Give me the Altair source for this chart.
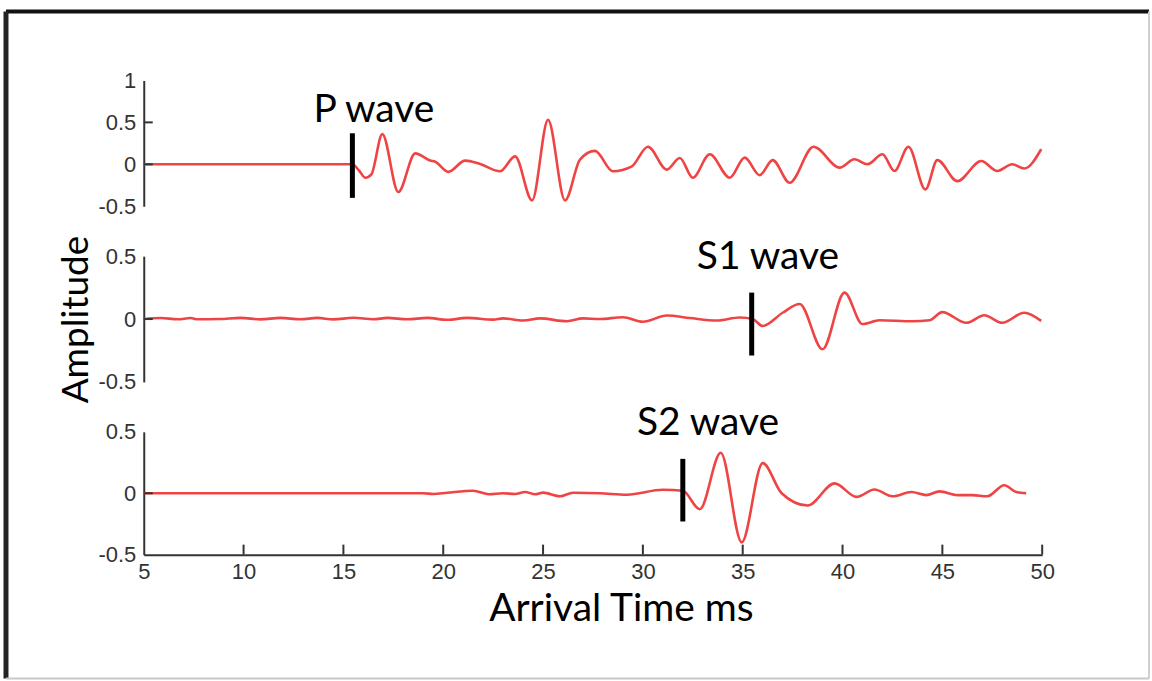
import altair as alt
import pandas as pd

# ---------------- data ----------------
p_time = [5.0, 13.0, 15.45, 15.8, 16.1, 16.4, 16.95, 17.75, 18.6, 19.35, 19.6, 20.25, 21.1, 21.85,
          22.85, 23.6, 24.45, 25.25, 26.1, 26.85, 27.6, 28.5, 29.45, 30.25, 31.2, 31.85, 32.5, 33.35,
          34.35, 35.1, 35.85, 36.5, 37.35, 38.55, 39.85, 40.6, 41.25, 42.0, 42.6, 43.3, 44.15, 44.75,
          45.75, 46.95, 47.75, 48.5, 49.1, 49.95]
p_amp = [0.0, 0.0, 0.0, -0.08, -0.16, -0.12, 0.36, -0.33, 0.13, 0.044, 0.03, -0.09, 0.044, 0.004,
         -0.083, 0.095, -0.43, 0.53, -0.43, 0.056, 0.16, -0.083, -0.024, 0.21, -0.063, 0.075, -0.16, 0.12,
         -0.16, 0.08, -0.13, 0.05, -0.22, 0.21, -0.04, 0.06, 0.0, 0.12, -0.08, 0.21, -0.3, 0.05,
         -0.2, 0.04, -0.08, 0.0, -0.05, 0.18]

s1_time = [5.0, 5.85, 6.7, 7.35, 7.7, 8.8, 9.85, 10.85, 11.85, 12.85, 13.7, 14.5, 15.5, 16.5, 17.2,
           18.2, 19.2, 20.2, 21.2, 22.5, 23.0, 24.0, 24.85, 26.2, 27.0, 27.85, 29.0, 30.0, 31.2, 32.35,
           33.7, 34.85, 35.5, 36.0, 37.0, 37.85, 39.0, 40.1, 41.0, 41.85, 43.5, 44.35, 45.0, 46.2,
           47.1, 48.0, 49.1, 49.95]
s1_amp = [0.0, 0.008, -0.002, 0.008, -0.002, 0.0, 0.009, -0.003, 0.009, -0.002, 0.009, -0.003, 0.01,
          -0.002, 0.009, -0.002, 0.009, -0.006, 0.009, -0.005, 0.005, -0.012, 0.005, -0.018, 0.005, 0.0,
          0.014, -0.022, 0.028, 0.008, -0.012, 0.012, 0.0, -0.055, 0.05, 0.12, -0.24, 0.21, -0.04, -0.01,
          -0.018, -0.01, 0.055, -0.03, 0.03, -0.03, 0.05, -0.015]

s2_time = [5.0, 19.0, 19.5, 20.2, 21.5, 22.3, 23.0, 23.6, 24.1, 24.6, 25.0, 25.85, 26.5, 27.85, 29.2,
           31.0, 32.0, 32.85, 33.9, 34.95, 36.0, 36.95, 38.25, 39.6, 40.7, 41.6, 42.5, 43.45, 44.2,
           44.85, 45.75, 46.5, 47.25, 48.1, 48.7, 49.2]
s2_amp = [0.0, 0.0, -0.006, 0.004, 0.02, -0.008, 0.0, -0.006, 0.01, -0.008, 0.005, -0.025, 0.004, 0.0,
          -0.012, 0.028, 0.02, -0.13, 0.33, -0.4, 0.245, 0.0, -0.1, 0.08, -0.03, 0.03, -0.025, 0.01,
          -0.015, 0.015, -0.015, -0.015, -0.025, 0.065, 0.01, 0.0]

wave_names = ["P wave", "S1 wave", "S2 wave"]
label_time = [13.5, 32.7, 29.7]
label_amp = [0.51, 0.397, 0.475]
marker_time = [15.45, 35.45, 32.0]
marker_top = [0.37, 0.21, 0.28]
marker_bottom = [-0.40, -0.29, -0.23]

x_ticks = [5, 10, 15, 20, 25, 30, 35, 40, 45, 50]
y_ticks_top = [-0.5, 0, 0.5, 1]
y_ticks_small = [-0.5, 0, 0.5]

# ---------------- style ----------------
RED = "#ef4444"
AXIS_COLOR = "#333333"
TICK_FONT = "Liberation Sans"
TEXT_FONT = "Lato"
W = 900

xscale = alt.Scale(domain=[5, 50], nice=False, zero=False)


def y_axis(values, **kw):
    return alt.Axis(values=values, labelExpr="'' + datum.value", ticks=False, tickSize=0, grid=False,
                    domainColor=AXIS_COLOR, domainWidth=2, labelFont=TICK_FONT, labelFontSize=22,
                    labelColor=AXIS_COLOR, labelPadding=8, labelOverlap=False, **kw)


def panel(times, amps, ydom, yaxis, xaxis, k, h, inner_y):
    data = pd.DataFrame({"t": times, "a": amps})
    x = alt.X("t:Q", scale=xscale, axis=xaxis)
    y = alt.Y("a:Q", scale=alt.Scale(domain=ydom, nice=False, zero=False), axis=yaxis)
    line = alt.Chart(data).mark_line(color=RED, strokeWidth=2.6, interpolate="monotone").encode(x=x, y=y)
    yt = alt.Chart(pd.DataFrame({"a": inner_y})).mark_rule(color=AXIS_COLOR, strokeWidth=2).encode(
        y=y, x=alt.value(0), x2=alt.value(9))
    mk = pd.DataFrame({"t": [marker_time[k]], "a": [marker_top[k]], "a2": [marker_bottom[k]]})
    marker = alt.Chart(mk).mark_rule(color="black", strokeWidth=5).encode(x=x, y=y, y2="a2:Q")
    lab = pd.DataFrame({"t": [label_time[k]], "a": [label_amp[k]], "txt": [wave_names[k]]})
    text = alt.Chart(lab).mark_text(align="left", baseline="alphabetic", font=TEXT_FONT, fontSize=39,
                                    color="black").encode(x=x, y=y, text="txt:N")
    return [line, yt, marker, text], x, y


# panel 1
layers1, x1, y1 = panel(p_time, p_amp, [-0.5, 1], y_axis(y_ticks_top, title=None), None, 0, 126, [0, 0.5])
dummy = pd.DataFrame({"k": [0]})
frame_top = alt.Chart(dummy).mark_rule(color="#111111", strokeWidth=4).encode(
    x=alt.value(-138), x2=alt.value(1007), y=alt.value(-69))
frame_left = alt.Chart(dummy).mark_rule(color="#222222", strokeWidth=5).encode(
    x=alt.value(-138), y=alt.value(-69), y2=alt.value(599))
frame_bottom = alt.Chart(dummy).mark_rule(color="#c8c8c8", strokeWidth=2).encode(
    x=alt.value(-138), x2=alt.value(1007), y=alt.value(599))
frame_right = alt.Chart(dummy).mark_rule(color="#d0d0d0", strokeWidth=2).encode(
    x=alt.value(1007), y=alt.value(-69), y2=alt.value(599))
p1 = alt.layer(*layers1, frame_top, frame_left, frame_bottom, frame_right).properties(width=W, height=126)

# panel 2
amp_axis = y_axis(y_ticks_small, title="Amplitude", titleFont=TEXT_FONT, titleFontSize=37,
                  titleFontWeight="normal", titleColor="black", titleAngle=270, titleAlign="center",
                  titleBaseline="alphabetic", titleX=-56, titleY=63)
layers2, x2, y2 = panel(s1_time, s1_amp, [-0.5, 0.5], amp_axis, None, 1, 126, [0])
p2 = alt.layer(*layers2).properties(width=W, height=126)

# panel 3
x_axis = alt.Axis(values=x_ticks, ticks=False, tickSize=0, grid=False, domainColor=AXIS_COLOR,
                  domainWidth=2, labelFont=TICK_FONT, labelFontSize=22, labelColor=AXIS_COLOR,
                  labelPadding=7, labelFlush=False, labelOverlap=False, title="Arrival Time ms",
                  titleFont=TEXT_FONT, titleFontSize=39, titleFontWeight="normal", titleColor="black",
                  titleX=478, titleY=66, titleAlign="center", titleBaseline="alphabetic")
H3 = 123
layers3, x3, y3 = panel(s2_time, s2_amp, [-0.5, 0.5], y_axis(y_ticks_small, title=None), x_axis, 2, H3, [0])
xt = alt.Chart(pd.DataFrame({"t": x_ticks[1:]})).mark_rule(color=AXIS_COLOR, strokeWidth=2).encode(
    x=x3, y=alt.value(H3), y2=alt.value(H3 - 10))
p3 = alt.layer(*layers3, xt).properties(width=W, height=H3)

chart = alt.vconcat(p1, p2, p3, spacing=50, bounds="flush").properties(
    padding={"left": 3, "top": 8, "right": 1, "bottom": 2},
    background="white",
).configure_view(stroke=None)

chart.save("out.html", embed_options={"renderer": "svg", "actions": False})
